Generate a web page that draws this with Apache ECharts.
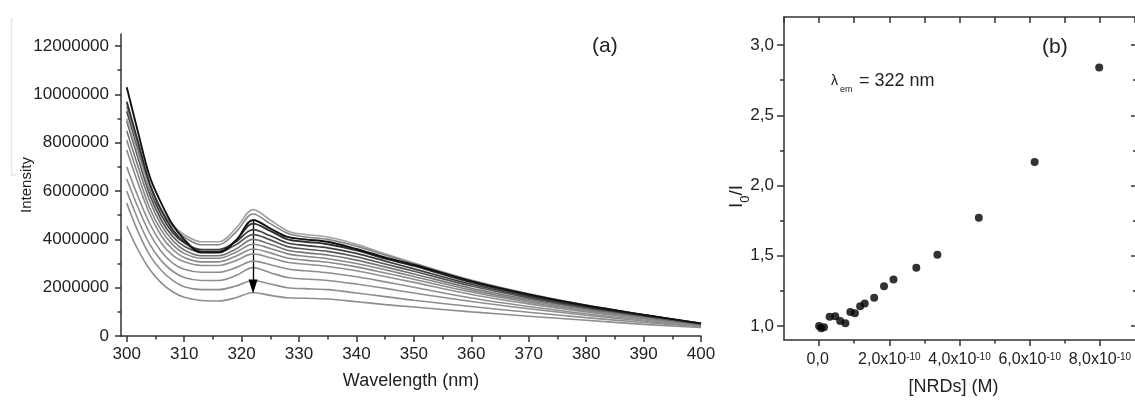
<!DOCTYPE html>
<html><head><meta charset="utf-8">
<script src="https://cdn.jsdelivr.net/npm/echarts@6/dist/echarts.min.js"></script>
<style>html,body{margin:0;padding:0;background:#fff;overflow:hidden}#c{width:1135px;height:401px}</style>
</head><body><div id="c"></div>
<script>
// ---------- Panel (a): emission spectra (intensity in units of 1e6) ----------
const wavelengths = [300,302,304,306,308,310,313,316,319,322,325,328,331,335,340,345,350,360,370,380,390,400];
const spectrum01 = [4.55,3.55,2.75,2.2,1.83,1.6,1.47,1.45,1.58,1.8,1.68,1.58,1.56,1.53,1.42,1.3,1.2,1.0,0.82,0.65,0.48,0.35];
const spectrum02 = [5.5,4.3,3.35,2.72,2.3,2.04,1.92,1.92,2.07,2.3,2.15,2.0,1.96,1.92,1.78,1.63,1.48,1.22,0.98,0.76,0.56,0.38];
const spectrum03 = [6.0,4.8,3.8,3.12,2.68,2.42,2.3,2.3,2.5,2.83,2.62,2.42,2.36,2.3,2.15,1.97,1.78,1.43,1.13,0.86,0.62,0.4];
const spectrum04 = [6.5,5.3,4.25,3.5,3.02,2.76,2.64,2.64,2.83,3.1,2.95,2.77,2.7,2.62,2.45,2.24,2.02,1.57,1.22,0.92,0.66,0.41];
const spectrum05 = [7.0,5.75,4.65,3.85,3.34,3.07,2.92,2.92,3.12,3.4,3.24,3.05,2.97,2.88,2.7,2.46,2.22,1.72,1.33,1.0,0.71,0.43];
const spectrum06 = [7.7,6.3,5.05,4.15,3.58,3.25,3.07,3.07,3.3,3.6,3.44,3.23,3.14,3.05,2.86,2.61,2.35,1.82,1.4,1.05,0.75,0.45];
const spectrum07 = [8.1,6.65,5.3,4.38,3.78,3.42,3.22,3.22,3.47,3.8,3.62,3.4,3.3,3.2,3.0,2.74,2.46,1.9,1.46,1.09,0.77,0.46];
const spectrum08 = [8.5,7.0,5.6,4.6,3.95,3.56,3.32,3.32,3.6,4.0,3.8,3.55,3.45,3.35,3.14,2.86,2.57,1.98,1.52,1.13,0.8,0.48];
const spectrum09 = [8.9,7.35,5.85,4.8,4.12,3.72,3.47,3.47,3.78,4.2,3.98,3.7,3.6,3.5,3.28,2.98,2.68,2.07,1.58,1.17,0.83,0.49];
const spectrum10 = [9.3,7.7,6.1,5.0,4.28,3.86,3.58,3.58,3.9,4.4,4.15,3.85,3.75,3.65,3.42,3.1,2.78,2.14,1.63,1.2,0.85,0.5];
const spectrum11 = [9.7,8.0,6.3,5.2,4.4,3.9,3.5,3.5,3.95,4.65,4.35,4.0,3.9,3.8,3.55,3.2,2.9,2.22,1.68,1.24,0.87,0.52];
const spectrum12 = [10.3,8.4,6.6,5.5,4.6,4.0,3.45,3.45,3.95,4.8,4.45,4.1,4.0,3.9,3.6,3.25,2.95,2.27,1.72,1.26,0.88,0.52];
const spectrum13 = [9.5,7.8,6.3,5.25,4.55,4.1,3.78,3.78,4.3,5.05,4.65,4.25,4.1,4.0,3.72,3.35,3.0,2.3,1.74,1.27,0.88,0.5];
const spectrum14 = [9.0,7.5,6.15,5.2,4.6,4.2,3.9,3.9,4.45,5.23,4.8,4.35,4.2,4.1,3.8,3.4,3.02,2.32,1.75,1.28,0.88,0.5];
const arrowFrom = [322, 4.8];
const arrowTo = [322, 2.05];
const xTicksA = [300,310,320,330,340,350,360,370,380,390,400];
const xMinorA = [305,315,325,335,345,355,365,375,385,395];
const yTicksA = [0,2,4,6,8,10,12];
const yMinorA = [1,3,5,7,9,11];

// ---------- Panel (b): Stern-Volmer plot (concentration in units of 1e-10 M) ----------
const nrds = [0.0,0.06,0.14,0.30,0.46,0.60,0.75,0.89,1.02,1.17,1.30,1.57,1.85,2.12,2.77,3.37,4.55,6.14,7.98];
const i0OverI = [1.00,0.984,0.99,1.066,1.07,1.035,1.02,1.10,1.09,1.14,1.16,1.20,1.283,1.33,1.415,1.507,1.77,2.167,2.84];
const xTicksB = [0,2,4,6,8];
const xMinorB = [1,3,5,7];
const yTicksB = [1.0,1.5,2.0,2.5,3.0];
const yMinorB = [1.25,1.75,2.25,2.75];

// ---------- styles ----------
const spectra = [spectrum01,spectrum02,spectrum03,spectrum04,spectrum05,spectrum06,spectrum07,spectrum08,spectrum09,spectrum10,spectrum14,spectrum13,spectrum11,spectrum12];
const spectraColors = ['#8e8e8e','#8e8e8e','#8e8e8e','#8e8e8e','#909090','#8a8a8a','#868686','#777','#555','#3e3e3e','#a2a2a2','#858585','#2e2e2e','#111'];
const spectraWidths = [1.6,1.6,1.6,1.6,1.6,1.6,1.6,1.6,1.7,1.7,1.6,1.6,1.9,1.9];
const TXT = '#222';
const AX = '#333';
const FONT = 'Liberation Sans, Arial, sans-serif';
const noLine = {show:false, onZero:false};
const axLine = {show:true, onZero:false, lineStyle:{color:AX, width:1.5}};
const tickStyle = {color:AX, width:1.5};
const off = {show:false};
const GRID_B = {left:784, top:17, width:355, height:325};

function tickOnly(grid, min, max, position, offset, length, values, withLine) {
  return {type:'value', gridIndex:grid, min:min, max:max, position:position, offset:offset,
    axisLine: withLine ? axLine : noLine,
    axisTick:{show:true, length:length, customValues:values, lineStyle:tickStyle},
    axisLabel:off, splitLine:off};
}

const xAxes = [];
const yAxes = [];
// panel a
xAxes.push({type:'value', gridIndex:0, min:299, max:400, position:'bottom', axisLine:axLine,
  axisTick:{show:true, length:6, customValues:xTicksA, lineStyle:tickStyle},
  axisLabel:{show:true, customValues:xTicksA, margin:10, color:TXT, fontSize:17, fontFamily:FONT},
  splitLine:off,
  name:'Wavelength (nm)', nameLocation:'middle', nameGap:36, nameMoveOverlap:false,
  nameTextStyle:{color:TXT, fontSize:18, fontFamily:FONT}});
xAxes.push(tickOnly(0, 299, 400, 'bottom', 0, 3.5, xMinorA, false));
yAxes.push({type:'value', gridIndex:0, min:0, max:12.5, position:'left', axisLine:axLine,
  axisTick:{show:true, length:6, customValues:yTicksA, lineStyle:tickStyle},
  axisLabel:{show:true, customValues:yTicksA, margin:12, color:TXT, fontSize:17, fontFamily:FONT,
    formatter: v => String(Math.round(v*1000000))},
  splitLine:off,
  name:'Intensity', nameLocation:'middle', nameGap:87, nameRotate:90, nameMoveOverlap:false,
  nameTextStyle:{color:TXT, fontSize:15, fontFamily:FONT}});
yAxes.push(tickOnly(0, 0, 12.5, 'left', 0, 3.5, yMinorA, false));
// panel b: bottom / left axes with labels
xAxes.push({type:'value', gridIndex:1, min:-1, max:9, position:'bottom', axisLine:axLine,
  axisTick:{show:true, length:6, customValues:xTicksB, lineStyle:tickStyle},
  axisLabel:{show:true, customValues:xTicksB, margin:12, color:TXT, fontFamily:FONT,
    formatter: v => (Math.abs(v) < 1e-9 ? '{m|0,0}{s| }' : '{m|' + v.toFixed(1).replace('.', ',') + 'x10}{s|-10}'),
    rich:{ m:{fontSize:16, lineHeight:16, verticalAlign:'bottom', color:TXT, fontFamily:FONT},
           s:{fontSize:10, lineHeight:10, padding:[0,0,12,0], verticalAlign:'top', color:TXT, fontFamily:FONT} }},
  splitLine:off,
  name:'[NRDs] (M)', nameLocation:'middle', nameGap:38, nameMoveOverlap:false,
  nameTextStyle:{color:TXT, fontSize:18, fontFamily:FONT, padding:[0,12,0,0]}});
xAxes.push(tickOnly(1, -1, 9, 'bottom', 0, 3.5, xMinorB, false));
// top frame of panel b: ticks every 1e-10 pointing into the plot (min is a multiple of the interval)
xAxes.push({type:'value', gridIndex:1, min:-1, max:9, interval:1, position:'top', axisLine:axLine,
  axisTick:{show:true, inside:true, length:6, lineStyle:tickStyle},
  axisLabel:off, splitLine:off});
yAxes.push({type:'value', gridIndex:1, min:0.9, max:3.2, position:'left', axisLine:axLine,
  axisTick:{show:true, length:7, customValues:yTicksB, lineStyle:tickStyle},
  axisLabel:{show:true, customValues:yTicksB, margin:10, color:TXT, fontSize:17, fontFamily:FONT,
    formatter: v => v.toFixed(1).replace('.', ',')},
  splitLine:off,
  name:'{i|I}{s|0}{i|/I}', nameLocation:'middle', nameGap:38, nameRotate:90, nameMoveOverlap:false,
  nameTextStyle:{color:TXT, fontFamily:FONT, padding:[0,36,0,0],
    rich:{ i:{fontSize:19, lineHeight:19, verticalAlign:'top', color:TXT, fontFamily:FONT},
           s:{fontSize:13, lineHeight:13, padding:[12,0,0,0], verticalAlign:'top', color:TXT, fontFamily:FONT} }}});
yAxes.push(tickOnly(1, 0.9, 3.2, 'left', 0, 4, yMinorB, false));
// right frame of panel b: left-type axes shifted to the right edge, ticks point into the plot
yAxes.push(tickOnly(1, 0.9, 3.2, 'left', -GRID_B.width, 8, yTicksB, true));
yAxes.push(tickOnly(1, 0.9, 3.2, 'left', -GRID_B.width, 6, yMinorB, false));

const series = spectra.map((s, k) => ({
  type:'line', xAxisIndex:0, yAxisIndex:0, showSymbol:false, smooth:0.35, silent:true,
  data: wavelengths.map((w, i) => [w, s[i]]),
  lineStyle:{color:spectraColors[k], width:spectraWidths[k]}, z: 2 + k
}));
series.push({
  type:'line', xAxisIndex:0, yAxisIndex:0, data:[], silent:true, z:30,
  markLine:{silent:true, symbol:['none','triangle'], symbolSize:[9,14], animation:false,
    lineStyle:{color:'#000', width:1.3, type:'solid'}, label:{show:false},
    data:[[{coord:arrowFrom},{coord:arrowTo}]]}
});
series.push({
  type:'scatter', xAxisIndex:2, yAxisIndex:2, symbol:'circle', symbolSize:8, silent:true,
  itemStyle:{color:'#000'},
  data: nrds.map((x, i) => [x, i0OverI[i]]), z:5
});

const chart = echarts.init(document.getElementById('c'), null, {renderer:'canvas'});
chart.setOption({
  animation:false,
  backgroundColor:'#fff',
  grid:[{left:121, top:34, width:580, height:302}, GRID_B],
  xAxis:xAxes, yAxis:yAxes, series:series,
  graphic:[
    {type:'polyline', shape:{points:[[11.5,18],[11.5,175],[16,175]]}, style:{stroke:'#e6e6e6', fill:null, lineWidth:1.5}, silent:true},
    {type:'text', left:592, top:36, style:{text:'(a)', fontSize:21, fontFamily:FONT, fill:TXT}},
    {type:'text', left:1042, top:37, style:{text:'(b)', fontSize:21, fontFamily:FONT, fill:TXT}},
    {type:'text', left:831, top:74, style:{text:'λ', fontSize:14, fontFamily:FONT, fill:TXT}},
    {type:'text', left:840, top:85, style:{text:'em', fontSize:9, fontFamily:FONT, fill:TXT}},
    {type:'text', left:859, top:72, style:{text:'= 322 nm', fontSize:18, fontFamily:FONT, fill:TXT}}
  ]
});
</script></body></html>
